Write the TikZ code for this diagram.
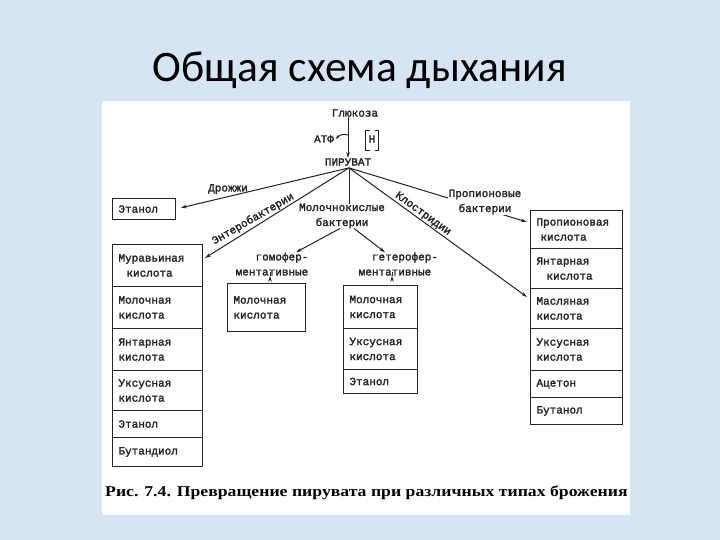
\documentclass[tikz,border=0pt]{standalone}
\usepackage{graphicx}
\usepackage{fontspec}
\setmainfont{Liberation Serif}
\newfontfamily\titlefont{Carlito}
\newfontfamily\dfont{Liberation Mono}[AutoFakeBold=2]
\usetikzlibrary{arrows.meta,calc}
\definecolor{bgblue}{RGB}{214,228,243}
\definecolor{ink}{RGB}{35,35,35}
\tikzset{
  lbl/.style={font=\dfont\bfseries\fontsize{11}{15}\selectfont, text=ink, inner sep=0pt, align=center},
  cell/.style={draw=ink, line width=1pt, anchor=north west, align=left,
    font=\dfont\bfseries\fontsize{11}{15}\selectfont, text=ink,
    inner xsep=6pt, inner ysep=0pt, text width=#1},
  arr/.style={draw=ink, line width=1pt, -{Stealth[length=6pt,width=3.5pt]}},
  ln/.style={draw=ink, line width=1pt}
}
\begin{document}
\begin{tikzpicture}[x=1pt,y=-1pt]
\useasboundingbox (0,0) rectangle (720,540);
\fill[bgblue] (0,0) rectangle (720,540);
\fill[white] (102,101) rectangle (630,515);

% title
\node[font=\titlefont\fontsize{43.5}{46}\selectfont, inner sep=0pt] (title) at (360,70) {Общая схема дыхания};

% top
\node[lbl] (glu) at (355,113) {Глюкоза};
\node[lbl] (pyr) at (348,162) {ПИРУВАТ};
\node[lbl] (atf) at (324,139) {АТФ};
\node[lbl] (hN) at (372,139) {Н};
\draw[ln] ($(hN.north west)+(1,-5)$) -- ++(-4,0) -- ++(0,20) -- ++(4,0);
\draw[ln] ($(hN.north east)+(-1,-5)$) -- ++(4,0) -- ++(0,20) -- ++(-4,0);
\draw[arr] (pyr.north |- glu.south) -- (pyr.north);
\draw[ln, -{Stealth[length=4pt,width=3pt]}] ($(pyr.north |- atf.east)+(0,-4)$) to[bend right=35] ($(atf.east)+(2,0)$);

% boxes: ethanol (left top)
\node[cell=51pt, minimum height=21pt] (E0) at (112,198) {Этанол};

% left column
\node[cell=78pt, minimum height=42pt] (L1) at (112,244) {Муравьиная\\\hspace*{8pt}кислота};
\node[cell=78pt, minimum height=42pt] (L2) at (112,286) {Молочная\\кислота};
\node[cell=78pt, minimum height=42pt] (L3) at (112,328) {Янтарная\\кислота};
\node[cell=78pt, minimum height=40pt] (L4) at (112,370) {Уксусная\\кислота};
\node[cell=78pt, minimum height=27pt] (L5) at (112,410) {Этанол};
\node[cell=78pt, minimum height=29pt] (L6) at (112,437) {Бутандиол};

% middle boxes
\node[cell=66pt, minimum height=48pt] (M1) at (227,283) {Молочная\\кислота};
\node[cell=62pt, minimum height=43pt] (H1) at (343,285) {Молочная\\кислота};
\node[cell=62pt, minimum height=41pt] (H2) at (343,328) {Уксусная\\кислота};
\node[cell=62pt, minimum height=24pt] (H3) at (343,369) {Этанол};

% right column
\node[cell=80pt, minimum height=38pt] (R1) at (530,210) {Пропионовая\\\hspace*{4pt}кислота};
\node[cell=80pt, minimum height=40pt] (R2) at (530,248) {Янтарная\\\hspace*{10pt}кислота};
\node[cell=80pt, minimum height=40pt] (R3) at (530,288) {Масляная\\кислота};
\node[cell=80pt, minimum height=42pt] (R4) at (530,328) {Уксусная\\кислота};
\node[cell=80pt, minimum height=27pt] (R5) at (530,370) {Ацетон};
\node[cell=80pt, minimum height=27pt] (R6) at (530,397) {Бутанол};

% labels
\node[lbl] (dr) at (228,189) {Дрожжи};
\node[lbl, rotate=30] (ent) at (253,219) {Энтеробактерии};
\node[lbl] (mol) at (342,216) {Молочнокислые\\бактерии};
\node[lbl] (gomo) at (272,264) {\hspace*{20pt}гомофер-\\ментативные};
\node[lbl] (het) at (395,264) {\hspace*{20pt}гетерофер-\\ментативные};
\node[lbl, rotate=-36] (clo) at (423,214) {Клостридии};

% connectors from pyruvate
\coordinate (p0) at ($(pyr.south)+(1,2)$);
\draw[arr, shorten >=5pt] (p0) -- (E0.east);
\draw[arr] (p0) -- ($(L1.north east)+(2,14)$);
\draw[ln] (p0) -- (p0 |- mol.north);
\draw[arr] (p0) -- ($(R3.north west)+(-3,9)$);
\draw[arr] (p0) -- ($(R1.north west)+(-3,12)$);
\node[lbl, fill=white, inner sep=1pt] (pro) at (485,202) {Пропионовые\\бактерии};

% lactic branches
\draw[arr] ($(mol.south)+(-2,0)$) -- ($(gomo.north)+(24,0)$);
\draw[arr] ($(mol.south)+(12,0)$) -- ($(het.north)+(-10,0)$);
\draw[arr] ($(gomo.south)+(-2,0)$) -- ($(gomo.south)+(-2,0)$ |- M1.north);
\draw[arr] ($(het.south)+(-3,0)$) -- ($(het.south)+(-3,0)$ |- H1.north);

% caption
\node[font=\bfseries\fontsize{15}{18}\selectfont, inner sep=0pt, anchor=west] (cap) at (105,493) {\scalebox{1.18}[1]{Рис. 7.4. Превращение пирувата при различных типах брожения}};
\end{tikzpicture}
\end{document}
